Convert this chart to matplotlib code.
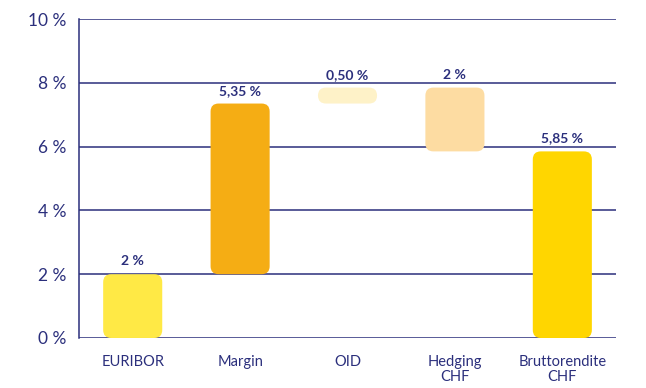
import matplotlib.pyplot as plt
from matplotlib.patches import FancyBboxPatch

# Data
categories = ['EURIBOR', 'Margin', 'OID', 'Hedging\nCHF', 'Bruttorendite\nCHF']
bottoms = [0, 2.0, 7.35, 5.85, 0]
heights = [2.0, 5.35, 0.50, 2.0, 5.85]
labels = ['2 %', '5,35 %', '0,50 %', '2 %', '5,85 %']
colors = ['#FFE945', '#F5AD14', '#FEF2C8', '#FDDCA2', '#FFD600']
yticks = [0, 2, 4, 6, 8, 10]

navy = '#2B2F7C'
plt.rcParams['font.family'] = ['Lato', 'DejaVu Sans']

fig = plt.figure(figsize=(6.46, 3.88), dpi=100)
ax = fig.add_axes([0.1223, 0.1289, 0.8313, 0.8221])

x = list(range(len(categories)))
bars = ax.bar(x, heights, bottom=bottoms, width=0.55, color=colors)
ax.set_xlim(-0.5, 4.5)
ax.set_ylim(0, 10)

# swap plain bars for rounded ones (keep radius round in pixels)
px_x = ax.get_position().width * 646 / 5.0
px_y = ax.get_position().height * 388 / 10.0
radius = 8 / px_x
for b in bars:
    rb = FancyBboxPatch((b.get_x(), b.get_y()), b.get_width(), b.get_height(),
                        boxstyle=f'round,pad=0,rounding_size={radius}',
                        mutation_aspect=px_x / px_y,
                        facecolor=b.get_facecolor(), edgecolor='none', zorder=3)
    ax.add_patch(rb)
    b.remove()

for xi, b0, h, lab in zip(x, bottoms, heights, labels):
    ax.annotate(lab, (xi, b0 + h), xytext=(0, 5), textcoords='offset points',
                ha='center', va='bottom', fontsize=10, fontweight='bold', color=navy)

# grid and axes
ax.set_yticks(yticks)
ax.set_yticklabels([f'{t} %' for t in yticks], fontsize=12.5, color=navy)
ax.yaxis.grid(True, color=navy, linewidth=1.1)
ax.set_axisbelow(True)
ax.set_xticks(x)
ax.set_xticklabels(categories, fontsize=10.5, color=navy, linespacing=1.1)
ax.tick_params(axis='y', length=0, pad=9)
ax.tick_params(axis='x', length=0, pad=12)
for s in ['top', 'right', 'bottom']:
    ax.spines[s].set_visible(False)
ax.spines['left'].set_color(navy)
ax.spines['left'].set_linewidth(1.1)

fig.savefig('out.png', dpi=100)
